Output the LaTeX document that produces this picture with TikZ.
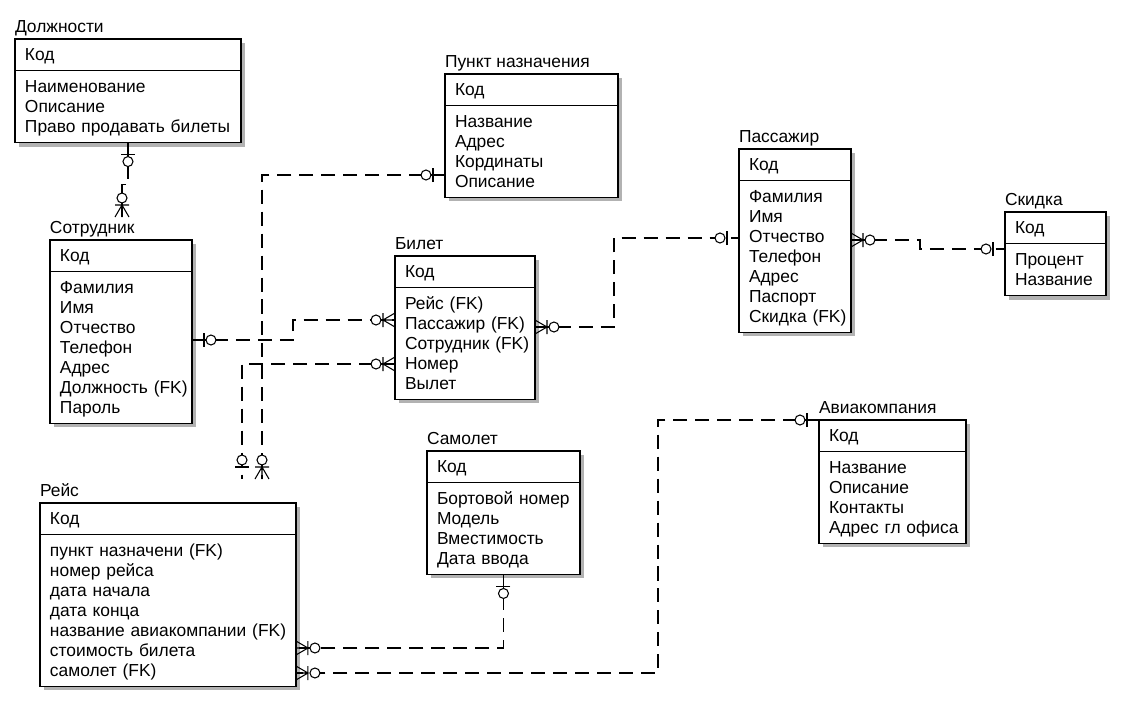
\documentclass[tikz,border=0pt]{standalone}
\usepackage{fontspec}
\setmainfont{Liberation Sans}
\usetikzlibrary{positioning,shadows}
\newcommand{\rowtop}{\rule{0pt}{9pt}}
\newcommand{\rowbot}{\rule[-2.3pt]{0pt}{2.3pt}}
\tikzset{
  entbox/.style={draw,line width=0.7pt,fill=white,anchor=north west,outer sep=0pt,
    inner xsep=0.2cm,inner ysep=0.12cm,align=left,font=\fontsize{9.9}{11.34}\selectfont,
    execute at begin node=\rowtop,execute at end node=\rowbot,
    drop shadow={shadow xshift=0.08cm,shadow yshift=-0.08cm,fill=gray!60,opacity=1}},
  ttl/.style={inner sep=0pt,outer sep=0pt,text depth=0pt,font=\fontsize{9.9}{11.34}\selectfont},
  rel/.style={line width=0.6pt,dash pattern=on 8pt off 4.5pt},
  symline/.style={solid,line width=0.6pt},
  zo/.pic={\draw[symline] (12,-7) -- (12,7);
    \draw[symline,fill=white] (19,0) circle (0.1cm);},
  zm/.pic={\draw[symline] (0,-7) -- (12,0) -- (0,7) (0,0) -- (12,0) (12,-7) -- (12,7);
    \draw[symline,fill=white] (19,0) circle (0.1cm);}
}
\begin{document}
\begin{tikzpicture}[x=0.02cm,y=-0.02cm]
\useasboundingbox[fill=white] (0,0) rectangle (1130,703);
% \draw[help lines,step=50] (0,0) grid (1130,703);
\node (dolzh-k) [entbox,text width=4.12cm] at (15,39) {Код};
\node (dolzh-a) [entbox,text width=4.12cm,below=0pt of dolzh-k] {Наименование\\Описание\\Право~продавать~билеты};
\node (dolzh-t) [ttl,above right=0.14cm and 0cm of dolzh-k.north west] {Должности};
%
\node (punkt-k) [entbox,text width=3.06cm] at (445,74) {Код};
\node (punkt-a) [entbox,text width=3.06cm,below=0pt of punkt-k] {Название\\Адрес\\Кординаты\\Описание};
\node (punkt-t) [ttl,above right=0.14cm and 0cm of punkt-k.north west] {Пункт назначения};
%
\node (pass-k) [entbox,text width=1.84cm] at (739,149) {Код};
\node (pass-a) [entbox,text width=1.84cm,below=0pt of pass-k] {Фамилия\\Имя\\Отчество\\Телефон\\Адрес\\Паспорт\\Скидка~(FK)};
\node (pass-t) [ttl,above right=0.14cm and 0cm of pass-k.north west] {Пассажир};
%
\node (skid-k) [entbox,text width=1.62cm] at (1005,212) {Код};
\node (skid-a) [entbox,text width=1.62cm,below=0pt of skid-k] {Процент\\Название};
\node (skid-t) [ttl,above right=0.14cm and 0cm of skid-k.north west] {Скидка};
%
\node (sotr-k) [entbox,text width=2.44cm] at (50,240) {Код};
\node (sotr-a) [entbox,text width=2.44cm,below=0pt of sotr-k] {Фамилия\\Имя\\Отчество\\Телефон\\Адрес\\Должность~(FK)\\Пароль};
\node (sotr-t) [ttl,above right=0.14cm and 0cm of sotr-k.north west] {Сотрудник};
%
\node (bil-k) [entbox,text width=2.40cm] at (395,256) {Код};
\node (bil-a) [entbox,text width=2.40cm,below=0pt of bil-k] {Рейс~(FK)\\Пассажир~(FK)\\Сотрудник~(FK)\\Номер\\Вылет};
\node (bil-t) [ttl,above right=0.14cm and 0cm of bil-k.north west] {Билет};
%
\node (samol-k) [entbox,text width=2.66cm] at (427,451) {Код};
\node (samol-a) [entbox,text width=2.66cm,below=0pt of samol-k] {Бортовой~номер\\Модель\\Вместимость\\Дата~ввода};
\node (samol-t) [ttl,above right=0.14cm and 0cm of samol-k.north west] {Самолет};
%
\node (avia-k) [entbox,text width=2.54cm] at (819,420) {Код};
\node (avia-a) [entbox,text width=2.54cm,below=0pt of avia-k] {Название\\Описание\\Контакты\\Адрес~гл~офиса};
\node (avia-t) [ttl,above right=0.14cm and 0cm of avia-k.north west] {Авиакомпания};
%
\node (rejs-k) [entbox,text width=4.72cm] at (40,503) {Код};
\node (rejs-a) [entbox,text width=4.72cm,below=0pt of rejs-k] {пункт~назначени~(FK)\\номер~рейса\\дата~начала\\дата~конца\\название~авиакомпании~(FK)\\стоимость~билета\\самолет~(FK)};
\node (rejs-t) [ttl,above right=0.14cm and 0cm of rejs-k.north west] {Рейс};
%
\coordinate (sotr-in) at (122,217);
\coordinate (rejs-in1) at (262,479);
\coordinate (rejs-in2) at (242,479);
% relationships
\draw[rel] (dolzh-a.south) -- ++(0,42) -| (sotr-in);
\draw[rel] (punkt-a.west |- 0,175) -| (rejs-in1);
\draw[rel] (bil-a.west |- 0,364) -| (rejs-in2);
\draw[rel] (sotr-a.east |- 0,340) -- ++(101,0) |- (bil-a.west |- 0,320);
\draw[rel] (bil-a.east |- 0,327) -- ++(79,0) |- (pass-a.west |- 0,238);
\draw[rel] (pass-a.east |- 0,240) -- ++(69,0) |- (skid-a.west |- 0,249);
\draw[rel] (avia-k.north west) -- ++(-161,0) |- (rejs-a.east |- 0,673);
\draw[rel] (samol-a.south) |- (rejs-a.east |- 0,648);
% cardinality marks
\pic[rotate=-90] at (dolzh-a.south) {zo};
\pic[rotate=90] at (sotr-in) {zm};
\pic[rotate=180] at (punkt-a.west |- 0,175) {zo};
\pic[rotate=90] at (rejs-in1) {zm};
\pic[rotate=180] at (bil-a.west |- 0,364) {zm};
\pic[rotate=90] at (rejs-in2) {zo};
\pic at (sotr-a.east |- 0,340) {zo};
\pic[rotate=180] at (bil-a.west |- 0,320) {zm};
\pic at (bil-a.east |- 0,327) {zm};
\pic[rotate=180] at (pass-a.west |- 0,238) {zo};
\pic at (pass-a.east |- 0,240) {zm};
\pic[rotate=180] at (skid-a.west |- 0,249) {zo};
\pic[rotate=180] at (avia-k.north west) {zo};
\pic at (rejs-a.east |- 0,673) {zm};
\pic[rotate=-90] at (samol-a.south) {zo};
\pic at (rejs-a.east |- 0,648) {zm};
\end{tikzpicture}
\end{document}
